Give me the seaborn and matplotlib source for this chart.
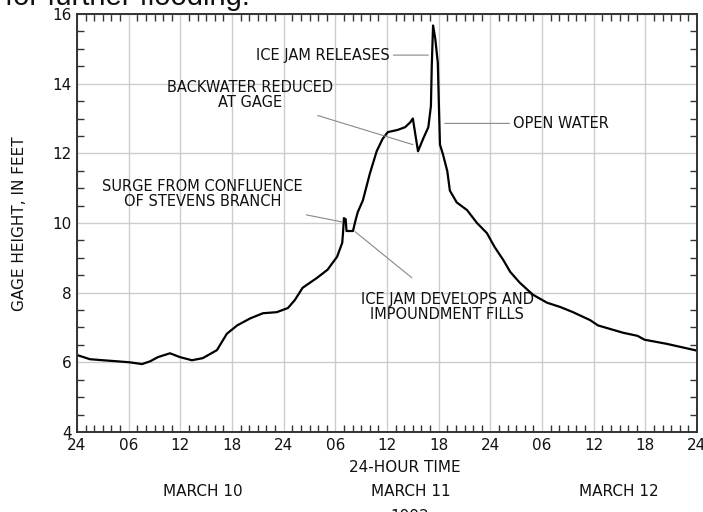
import numpy as np
import pandas as pd
import matplotlib
matplotlib.use('Agg')
import matplotlib.pyplot as plt
from matplotlib.ticker import MultipleLocator
import seaborn as sns

# ── Données (heures depuis le 10 mars 00h) ──
hours = [0, 1.5, 3.0, 4.65, 6.15, 7.55, 8.5, 9.4, 10.8, 11.95, 13.35, 14.6,
         16.25, 17.4, 18.6, 20.1, 21.6, 23.2, 24.5, 25.3, 26.2, 27.9, 29.1,
         30.2, 30.8, 30.9, 31.0, 31.2, 31.3, 32.05, 32.3, 32.6, 33.2, 34.0,
         34.8, 35.5, 36.1, 37.2, 38.1, 38.7, 39.0, 39.25, 39.6, 40.2, 40.8,
         41.1, 41.2, 41.35, 41.6, 41.9, 42.0, 42.15, 42.5, 43.0, 43.3, 44.1,
         45.3, 46.45, 47.6, 48.5, 49.5, 50.3, 51.4, 52.95, 54.6, 56.1, 57.6,
         59.6, 60.5, 63.4, 65.1, 65.9, 68.5, 71.75, 72]
gage_ft = [6.21, 6.09, 6.06, 6.03, 6.00, 5.95, 6.03, 6.15, 6.26, 6.15, 6.06,
           6.12, 6.35, 6.82, 7.06, 7.26, 7.41, 7.44, 7.56, 7.79, 8.14, 8.43,
           8.66, 9.03, 9.43, 9.74, 10.14, 10.11, 9.77, 9.77, 10.03, 10.31,
           10.65, 11.41, 12.06, 12.42, 12.61, 12.67, 12.75, 12.89, 13.0,
           12.61, 12.06, 12.42, 12.75, 13.36, 14.52, 15.67, 15.3, 14.6, 13.64,
           12.25, 11.97, 11.49, 10.93, 10.59, 10.37, 10.0, 9.71, 9.31, 8.94,
           8.6, 8.29, 7.94, 7.71, 7.59, 7.44, 7.21, 7.06, 6.85, 6.76, 6.65,
           6.53, 6.35, 6.33]

tick_hours = list(range(0, 73, 6))
tick_labels = ['24', '06', '12', '18'] * 3 + ['24']
day_labels = ['MARCH 10', 'MARCH 11', 'MARCH 12']

df = pd.DataFrame({'heure': hours, 'hauteur': gage_ft})

# ── Style ─────────────────────────────────────────────────
sns.set_style('ticks')
plt.rcParams['font.family'] = ['DejaVu Sans']
plt.rcParams['text.color'] = '#111111'
plt.rcParams['xtick.labelcolor'] = '#111111'
plt.rcParams['ytick.labelcolor'] = '#111111'

fig = plt.figure(figsize=(7.03, 5.12), dpi=100)
ax = fig.add_axes([77/703, 1 - 432/512, 620/703, 418/512])

sns.lineplot(data=df, x='heure', y='hauteur', ax=ax, color='black',
             linewidth=1.6, sort=False)

ax.set_xlim(0, 72)
ax.set_ylim(4, 16)
ax.set_xticks(tick_hours)
ax.set_xticklabels(tick_labels, fontsize=11)
ax.set_yticks(range(4, 17, 2))
ax.set_yticklabels([str(v) for v in range(4, 17, 2)], fontsize=11)
ax.xaxis.set_minor_locator(MultipleLocator(1))
ax.yaxis.set_minor_locator(MultipleLocator(0.5))
ax.tick_params(which='both', direction='in', top=True, right=True,
               color='#333333', width=1)
ax.tick_params(which='major', length=0, pad=4)
ax.tick_params(which='minor', length=5)
ax.grid(True, which='major', color='#cccccc', linewidth=1)
ax.set_xlabel('')
ax.set_ylabel('')
for s in ax.spines.values():
    s.set_linewidth(1.4)
    s.set_color('#333333')

# ── Annotations ───────────────────────────────────────────
lc = '#888888'
kw = dict(fontsize=10.5, ha='center', va='center', linespacing=1.0)
ax.annotate('ICE JAM RELEASES', xy=(40.8, 14.82), xytext=(28.6, 14.82),
            arrowprops=dict(arrowstyle='-', color=lc, lw=0.8,
                            shrinkA=0, shrinkB=0), **kw)
ax.annotate('BACKWATER REDUCED\nAT GAGE', xy=(39.0, 12.25), xytext=(20.1, 13.68),
            arrowprops=dict(arrowstyle='-', color=lc, lw=0.8,
                            shrinkA=6, shrinkB=0), **kw)
ax.annotate('OPEN WATER', xy=(42.7, 12.86), xytext=(50.6, 12.86),
            arrowprops=dict(arrowstyle='-', color=lc, lw=0.8,
                            shrinkA=0, shrinkB=0),
            fontsize=10.5, ha='left', va='center')
ax.annotate('SURGE FROM CONFLUENCE\nOF STEVENS BRANCH', xy=(30.8, 10.03),
            xytext=(14.6, 10.82),
            arrowprops=dict(arrowstyle='-', color=lc, lw=0.8,
                            shrinkA=8, shrinkB=0), **kw)
ax.annotate('ICE JAM DEVELOPS AND\nIMPOUNDMENT FILLS', xy=(32.3, 9.75),
            xytext=(43.0, 7.6),
            arrowprops=dict(arrowstyle='-', color=lc, lw=0.8,
                            shrinkA=12, shrinkB=0), **kw)

# ── Titres des axes ───────────────────────────────────────
fig.text(20/703, 1 - 224/512, 'GAGE HEIGHT, IN FEET', rotation=90,
         ha='center', va='center', fontsize=11)
fig.text(405/703, 1 - 467/512, '24-HOUR TIME', ha='center', va='center',
         fontsize=11)
for xc, lab in zip([203, 411, 619], day_labels):
    fig.text(xc/703, 1 - 492/512, lab, ha='center', va='center', fontsize=11)

# texte coupé du document scanné
fig.text(5/703, 1 - 5/512, 'for further flooding.', ha='left', va='baseline',
         fontsize=21, family='Liberation Sans')
fig.text(410/703, 1 - 509/512, '1992', ha='center', va='top', fontsize=11)

plt.savefig('out.png', dpi=100)
plt.close()
